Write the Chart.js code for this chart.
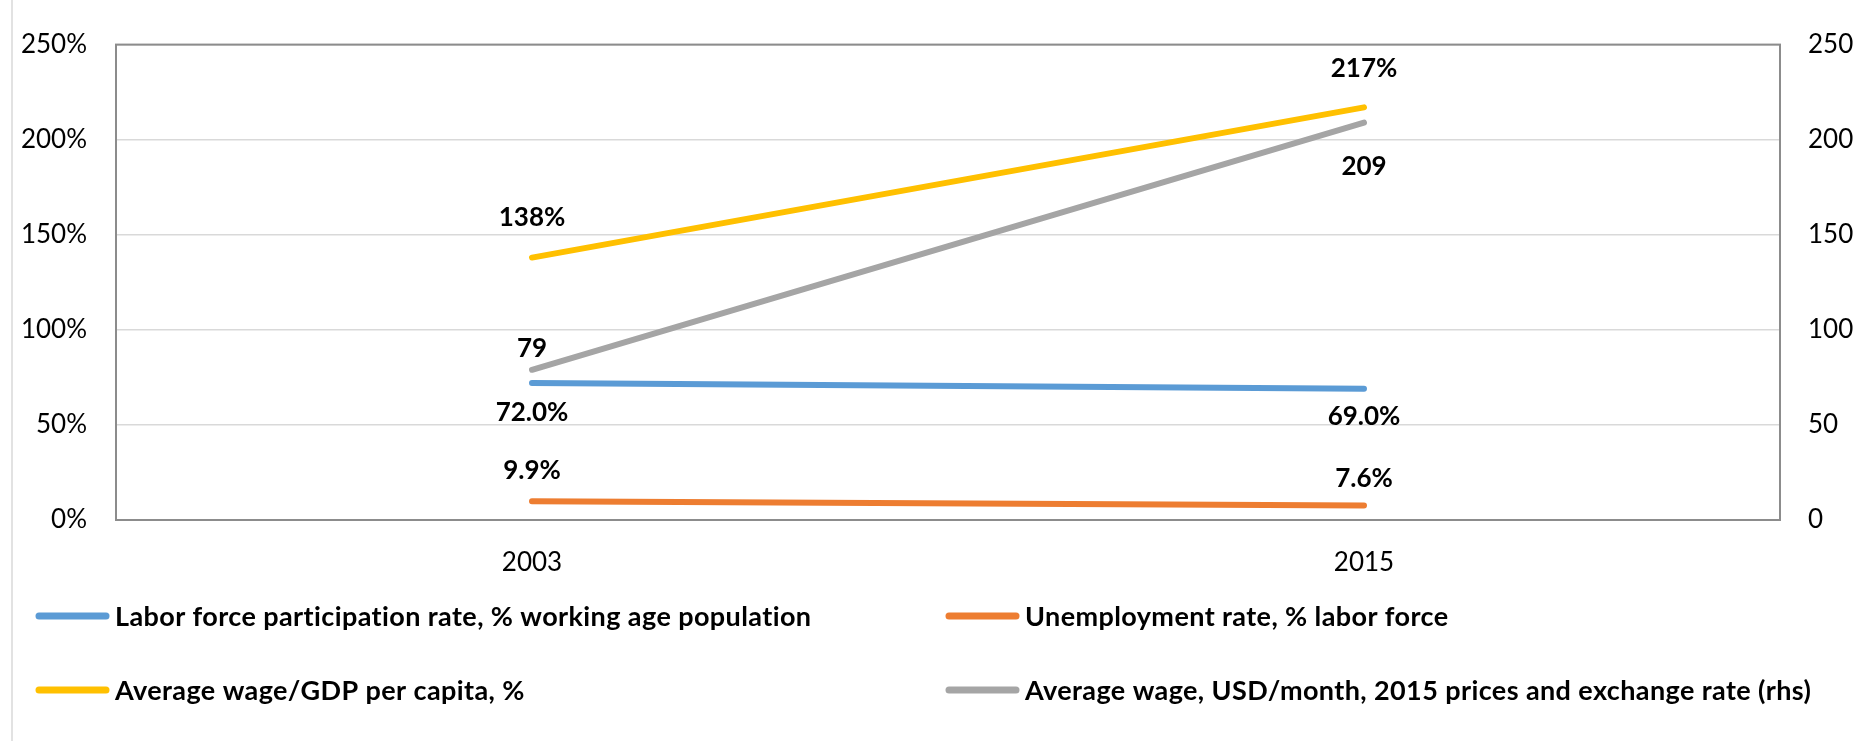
<!DOCTYPE html>
<html>
<head>
<meta charset="utf-8">
<script src="https://cdn.jsdelivr.net/npm/chart.js@4.4.1/dist/chart.umd.min.js"></script>
<style>
    html, body { margin: 0; padding: 0; background: #fff; }
    #wrap { position: relative; width: 1870px; height: 741px; }
</style>
</head>
<body>
<div id="wrap"><canvas id="laborChart"></canvas></div>
<script>
// Chart data
const years = ['2003', '2015'];
const laborForceRate = [72.0, 69.0];
const unemploymentRate = [9.9, 7.6];
const wageToGdpPerCapita = [138, 217];
const averageWageUsd = [79, 209];
const axisTicks = [0, 50, 100, 150, 200, 250];

// Label placement per point (style only, not data)
const labelPlacement = {
    labor: [['below', 30], ['below', 28]],
    unemployment: [['above', 31], ['above', 27]],
    wageGdp: [['above', 40], ['above', 39]],
    avgWage: [['above', 21], ['below', 44]]
};

const FONT = 'Lato, "Open Sans", sans-serif';

// Draws the plot border and the faint outer chart edge
const framePlugin = {
    id: 'frame',
    beforeDraw(chart) {
        const ctx = chart.ctx;
        ctx.save();
        ctx.strokeStyle = '#d9d9d9';
        ctx.lineWidth = 1.5;
        ctx.beginPath();
        ctx.moveTo(12, 0);
        ctx.lineTo(12, chart.height);
        ctx.stroke();
        ctx.restore();
    },
    beforeDatasetsDraw(chart) {
        const a = chart.chartArea;
        const ctx = chart.ctx;
        ctx.save();
        ctx.strokeStyle = '#8c8c8c';
        ctx.lineWidth = 2;
        ctx.strokeRect(a.left, a.top, a.right - a.left, a.bottom - a.top);
        ctx.restore();
    }
};

// Bold value labels next to each point
const valueLabelPlugin = {
    id: 'valueLabels',
    afterDatasetsDraw(chart) {
        const ctx = chart.ctx;
        ctx.save();
        ctx.font = 'bold 26px ' + FONT;
        ctx.fillStyle = '#000';
        ctx.textAlign = 'center';
        ctx.textBaseline = 'middle';
        chart.data.datasets.forEach((ds, i) => {
            const meta = chart.getDatasetMeta(i);
            meta.data.forEach((pt, j) => {
                const place = labelPlacement[ds.key][j];
                const dy = place[0] === 'above' ? -place[1] : place[1];
                ctx.fillText(ds.format(ds.data[j]), pt.x, pt.y + dy);
            });
        });
        ctx.restore();
    }
};

// Two-column legend under the plot
const legendPlugin = {
    id: 'gridLegend',
    afterDraw(chart) {
        const ctx = chart.ctx;
        const cols = [36, 946];
        const rows = [616, 690];
        ctx.save();
        ctx.font = 'bold 27px ' + FONT;
        ctx.letterSpacing = '0.4px';
        ctx.fillStyle = '#000';
        ctx.textBaseline = 'middle';
        chart.data.datasets.forEach((ds, i) => {
            const x = cols[i % 2];
            const y = rows[Math.floor(i / 2)];
            ctx.strokeStyle = ds.borderColor;
            ctx.lineWidth = 7;
            ctx.lineCap = 'round';
            ctx.beginPath();
            ctx.moveTo(x + 3, y);
            ctx.lineTo(x + 70, y);
            ctx.stroke();
            ctx.fillText(ds.label, x + 79, y + 1);
        });
        ctx.restore();
    }
};

function lineDataset(label, key, data, color, axis, format) {
    return {
        label: label,
        key: key,
        data: data,
        format: format,
        yAxisID: axis,
        borderColor: color,
        backgroundColor: color,
        borderWidth: 6,
        borderCapStyle: 'round',
        pointRadius: 0,
        pointHoverRadius: 0,
        tension: 0,
        fill: false
    };
}

const pct1 = v => v.toFixed(1) + '%';
const pct0 = v => Math.round(v) + '%';

const ctx = document.getElementById('laborChart').getContext('2d');
const laborChart = new Chart(ctx, {
    type: 'line',
    data: {
        labels: years,
        datasets: [
            lineDataset('Labor force participation rate, % working age population', 'labor', laborForceRate, '#5B9BD5', 'y', pct1),
            lineDataset('Unemployment rate, % labor force', 'unemployment', unemploymentRate, '#ED7D31', 'y', pct1),
            lineDataset('Average wage/GDP per capita, %', 'wageGdp', wageToGdpPerCapita, '#FFC000', 'y', pct0),
            lineDataset('Average wage, USD/month, 2015 prices and exchange rate (rhs)', 'avgWage', averageWageUsd, '#A5A5A5', 'y1', v => String(Math.round(v)))
        ]
    },
    options: {
        responsive: true,
        maintainAspectRatio: false,
        animation: false,
        layout: { padding: { top: 44, bottom: 141, left: 0, right: 0 } },
        plugins: {
            legend: { display: false },
            tooltip: { enabled: false }
        },
        scales: {
            x: {
                offset: true,
                grid: { display: false, drawTicks: false },
                border: { display: false },
                ticks: { color: '#000', padding: 27, font: { family: FONT, size: 26 } },
                afterFit(scale) { scale.height = 80; }
            },
            y: {
                position: 'left',
                min: 0,
                max: 250,
                afterBuildTicks(scale) { scale.ticks = axisTicks.map(v => ({ value: v })); },
                grid: { color: '#d9d9d9', lineWidth: 1.5, drawTicks: false },
                border: { display: false },
                ticks: {
                    color: '#000',
                    padding: 29,
                    font: { family: FONT, size: 26 },
                    callback: v => v + '%'
                },
                afterFit(scale) { scale.width = 116; }
            },
            y1: {
                position: 'right',
                min: 0,
                max: 250,
                afterBuildTicks(scale) { scale.ticks = axisTicks.map(v => ({ value: v })); },
                grid: { display: false, drawTicks: false },
                border: { display: false },
                ticks: {
                    color: '#000',
                    padding: 28,
                    font: { family: FONT, size: 26 },
                    callback: v => String(v)
                },
                afterFit(scale) { scale.width = 90; }
            }
        }
    },
    plugins: [framePlugin, valueLabelPlugin, legendPlugin]
});
</script>
</body>
</html>
